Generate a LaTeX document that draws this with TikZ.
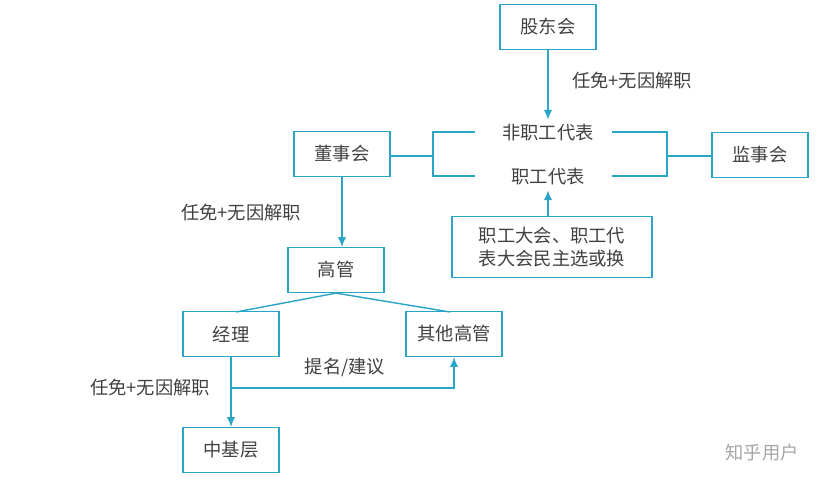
\documentclass[tikz,border=0pt]{standalone}
\usepackage{fontspec}
\setmainfont{Noto Sans CJK SC}
\usetikzlibrary{arrows.meta}
\definecolor{lineblue}{RGB}{40,165,200}
\tikzset{
  box/.style={draw=lineblue, line width=1pt, minimum width=2.4cm, minimum height=1.12cm, font=\fontsize{13}{16}\selectfont, text=black!75},
  lbl/.style={font=\fontsize{13}{16}\selectfont, text=black!75},
  conn/.style={draw=lineblue, line width=1pt},
  arr/.style={conn, -{Latex[length=7pt,width=6pt]}}
}
\begin{document}
\begin{tikzpicture}[x=0.025cm,y=-0.025cm]
\useasboundingbox (0,0) rectangle (832,482);

\node[box] (gdh) at (548,27) {股东会};
\node[box] (dsh) at (342,154) {董事会};
\node[box] (jsh) at (760,155) {监事会};
\node[box, minimum width=5cm, minimum height=1.52cm, align=center] (zgdh) at (552,247) {职工大会、职工代\\表大会民主选或换};
\node[box] (gg) at (336,270) {高管};
\node[box] (jl) at (231,334) {经理};
\node[box] (qt) at (454,334) {其他高管};
\node[box] (zjc) at (231,450) {中基层};

\node[lbl] (fzg) at (548,133) {非职工代表};
\node[lbl] (zg) at (548,177) {职工代表};

% brackets
\coordinate (bl) at (433,156);
\coordinate (br) at (667,156);
\draw[conn] (475,132) -- (433,132) -- (433,176) -- (475,176);
\draw[conn] (612,132) -- (667,132) -- (667,176) -- (612,176);
\draw[conn] (dsh.east |- bl) -- (bl);
\draw[conn] (br) -- (br -| jsh.west);

\draw[arr] (gdh.south) -- (gdh.south |- fzg.north);
\node[lbl] at (632,81) {任免+无因解职};
\draw[arr] (zgdh.north -| zg.south) -- (zg.south);

\draw[arr] (dsh.south) -- (dsh.south |- gg.north);
\node[lbl] at (241,213) {任免+无因解职};

\draw[conn] (gg.south) -- (236,312);
\draw[conn] (gg.south) -- (450,312);

\coordinate (fork) at (231,388);
\draw[arr] (jl.south) -- (zjc.north);
\draw[arr] (fork) -| (qt.south);
\node[lbl] at (345,367) {提名/建议};
\node[lbl] at (150,388) {任免+无因解职};

\node[font=\fontsize{13}{15}\selectfont, text=black!35] at (762,453) {知乎用户};
\end{tikzpicture}
\end{document}
